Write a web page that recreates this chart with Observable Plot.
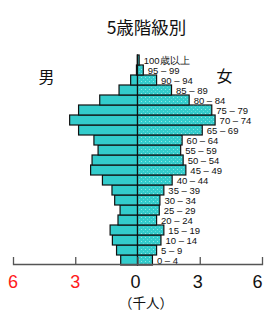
<!DOCTYPE html>
<html>
<head>
<meta charset="utf-8">
<script src="https://cdn.jsdelivr.net/npm/d3@7"></script>
<script src="https://cdn.jsdelivr.net/npm/@observablehq/plot@0.6"></script>
<style>
  html, body { margin: 0; padding: 0; background: #fff; }
  #chart { width: 264px; height: 326px; }
</style>
</head>
<body>
<div id="chart"></div>
<script>
const title = "5歳階級別";
const unitLabel = "（千人）";
const maleLabel = "男";
const femaleLabel = "女";
const ages = ["0 – 4", "5 – 9", "10 – 14", "15 – 19", "20 – 24", "25 – 29", "30 – 34", "35 – 39",
  "40 – 44", "45 – 49", "50 – 54", "55 – 59", "60 – 64", "65 – 69", "70 – 74", "75 – 79",
  "80 – 84", "85 – 89", "90 – 94", "95 – 99", "100歳以上"];
const male = [0.81, 1.01, 1.21, 1.32, 0.94, 0.84, 1.10, 1.23, 1.69, 2.26, 2.19, 1.90, 2.10,
  2.84, 3.27, 2.84, 1.82, 0.89, 0.33, 0.05, 0.01];
const female = [0.72, 0.92, 1.13, 1.27, 0.92, 1.05, 1.08, 1.27, 1.67, 2.33, 2.20, 2.08, 2.15,
  3.12, 3.74, 3.58, 2.49, 1.64, 0.92, 0.28, 0.08];
const xTicks = [-6, -3, 0, 3, 6];

const rows = ages.map((a, i) => ({age: a, male: male[i], female: female[i]}));
const font = "'Noto Sans CJK JP', 'Noto Sans', sans-serif";
const numFont = "'Liberation Sans', Arial, sans-serif";

const plot = Plot.plot({
  width: 264,
  height: 326,
  marginLeft: 13,
  marginRight: 2,
  marginTop: 0,
  marginBottom: 62,
  style: {fontFamily: font, background: "#fff"},
  x: {domain: [-6, 6], axis: null},
  y: {domain: ages.slice().reverse(), range: [55, 265], padding: 0, axis: null},
  marks: [
    Plot.barX(rows, {y: "age", x1: 0, x2: d => -d.male, fill: "#33cccc", stroke: "#111", strokeWidth: 1.2}),
    Plot.barX(rows, {y: "age", x1: 0, x2: "female", fill: "url(#femalePattern)", stroke: "#111", strokeWidth: 1.2}),
    Plot.text(rows, {y: "age", x: "female", text: "age", dx: 4, textAnchor: "start", fontSize: 9.5, fill: "#111", fontFamily: numFont}),
    Plot.frame({anchor: "bottom", stroke: "#555", strokeWidth: 1.3}),
    Plot.ruleX(xTicks, {x: d => d, insetTop: 257, stroke: "#555", strokeWidth: 1.3}),
    Plot.text(xTicks.filter(d => d < 0), {x: d => d, text: d => String(Math.abs(d)), frameAnchor: "bottom", dy: 23, dx: -0.5, fontSize: 18,
      fill: "#ff1a1a", fontFamily: numFont}),
    Plot.text(xTicks.filter(d => d >= 0 && d < 6), {x: d => d, text: d => String(Math.abs(d)), frameAnchor: "bottom", dy: 23, dx: -2.5, fontSize: 18,
      fill: "#111", fontFamily: numFont}),
    Plot.text(xTicks.filter(d => d === 6), {x: d => d, text: d => String(Math.abs(d)), frameAnchor: "bottom", dy: 23, textAnchor: "end", fontSize: 18,
      fill: "#111", fontFamily: numFont}),
    Plot.text([unitLabel], {text: d => d, frameAnchor: "bottom", dx: 8, dy: 43, fontSize: 13.5, fill: "#111"}),
    Plot.text([title], {text: d => d, frameAnchor: "top", dx: 8.5, dy: 21, fontSize: 17.5, fill: "#111"}),
    Plot.text([maleLabel], {text: d => d, frameAnchor: "top-left", dx: 25, dy: 71, fontSize: 16, fill: "#111"}),
    Plot.text([femaleLabel], {text: d => d, frameAnchor: "top-right", dx: -30, dy: 70, fontSize: 16, fill: "#111"})
  ]
});

const svgNS = "http://www.w3.org/2000/svg";
const defs = document.createElementNS(svgNS, "defs");
defs.innerHTML = `
  <pattern id="femalePattern" patternUnits="userSpaceOnUse" width="4" height="4">
    <rect width="4" height="4" fill="#33cccc"></rect>
    <rect x="1" y="1" width="1" height="1" fill="#8fe6e6"></rect>
    <rect x="3" y="3" width="1" height="1" fill="#66dada"></rect>
  </pattern>`;
plot.insertBefore(defs, plot.firstChild);
document.getElementById("chart").appendChild(plot);
</script>
</body>
</html>
